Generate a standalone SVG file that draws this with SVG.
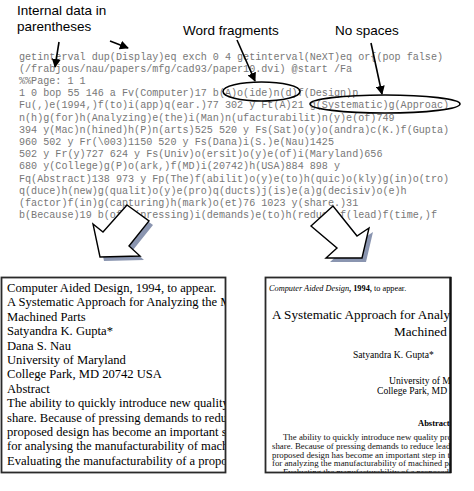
<svg xmlns="http://www.w3.org/2000/svg" width="474" height="491" viewBox="0 0 474 491">
<style>
.lbl{font-family:"Liberation Sans",Arial,sans-serif;font-size:13.5px;fill:#000}
.code{font-family:"Liberation Mono","Courier New",monospace;font-size:10.1px;fill:#777;white-space:pre}
.lt{font-family:"Liberation Serif","Times New Roman",serif;font-size:12.6px;fill:#000}
.rt{font-family:"Liberation Serif","Times New Roman",serif;fill:#000}
.para{font-size:8.8px;fill:#111}
.ptr{stroke:#000;stroke-width:1.6;fill:none;marker-end:url(#ah)}
.ell{fill:none;stroke:#000;stroke-width:1.6}
.blk{fill:#fff;stroke:#000;stroke-width:1.4;stroke-linejoin:miter}
.shd{fill:#8a95b0}
.box{fill:#fff;stroke:#2a2a2a;stroke-width:1.8}
</style>
<defs>
<marker id="ah" viewBox="0 0 10 10" refX="9" refY="5" markerWidth="9" markerHeight="9" markerUnits="userSpaceOnUse" orient="auto">
<path d="M0,0 L10,5 L0,10 z" fill="#000"/>
</marker>
<clipPath id="clipL"><rect x="2" y="278" width="223" height="193"/></clipPath>
<clipPath id="clipR"><rect x="266" y="278" width="184" height="194"/></clipPath>
</defs>
<rect width="474" height="491" fill="#fff"/>

<g id="labels">
<text class="lbl" x="17" y="15">Internal data in</text>
<text class="lbl" x="17" y="31">parentheses</text>
<text class="lbl" x="183" y="35">Word fragments</text>
<text class="lbl" x="335" y="35">No spaces</text>
</g>

<g id="postscript-code">
<text class="code" x="19" y="59.5">getinterval dup(Display)eq exch 0 4 getinterval(NeXT)eq or{(pop false)</text>
<text class="code" x="19" y="71.7">(/frabjous/nau/papers/mfg/cad93/paper10.dvi) @start /Fa</text>
<text class="code" x="19" y="83.9">%%Page: 1 1</text>
<text class="code" x="19" y="96.1">1 0 bop 55 146 a Fv(Computer)17 b(A)o(ide)n(d)f(Design)p</text>
<text class="code" x="19" y="108.3">Fu(,)e(1994,)f(to)i(app)q(ear.)77 302 y Ft(A)21 g(Systematic)g(Approac)</text>
<text class="code" x="19" y="120.5">n(h)g(for)h(Analyzing)e(the)i(Man)n(ufacturabilit)n(y)e(of)749</text>
<text class="code" x="19" y="132.7">394 y(Mac)n(hined)h(P)n(arts)525 520 y Fs(Sat)o(y)o(andra)c(K.)f(Gupta)</text>
<text class="code" x="19" y="144.9">960 502 y Fr(\003)1150 520 y Fs(Dana)i(S.)e(Nau)1425</text>
<text class="code" x="19" y="157.1">502 y Fr(y)727 624 y Fs(Univ)o(ersit)o(y)e(of)i(Maryland)656</text>
<text class="code" x="19" y="169.3">680 y(College)g(P)o(ark,)f(MD)i(20742)h(USA)884 898 y</text>
<text class="code" x="19" y="181.5">Fq(Abstract)138 973 y Fp(The)f(abilit)o(y)e(to)h(quic)o(kly)g(in)o(tro)</text>
<text class="code" x="19" y="193.7">q(duce)h(new)g(qualit)o(y)e(pro)q(ducts)j(is)e(a)g(decisiv)o(e)h</text>
<text class="code" x="19" y="205.9">(factor)f(in)g(capturing)h(mark)o(et)76 1023 y(share.)31</text>
<text class="code" x="19" y="218.1">b(Because)19 b(of)g(pressing)i(demands)e(to)h(reduce)f(lead)f(time,)f</text>
</g>

<g id="connectors">
<line class="ptr" x1="59" y1="42" x2="55" y2="67"/>
<line class="ptr" x1="110" y1="41" x2="128" y2="48"/>
<line class="ptr" x1="237" y1="40" x2="255" y2="81"/>
<line class="ptr" x1="371" y1="43" x2="382" y2="94"/>
<ellipse class="ell" cx="261.5" cy="91.5" rx="38.5" ry="9.5"/>
<ellipse class="ell" cx="385" cy="104" rx="75" ry="9"/>
</g>

<g id="arrow-left">
<polygon class="shd" points="131,209 153,225 133,250 144,260 104,261 97,228 107,236"/>
<polygon class="blk" points="127,205 149,221 129,246 140,256 100,257 93,224 103,232"/>
</g>
<g id="arrow-right">
<polygon class="shd" points="315,230 337,210 361,240 373,232 366,262 330,262 341,252"/>
<polygon class="blk" points="311,226 333,206 357,236 369,228 362,258 326,258 337,248"/>
</g>

<g id="text-output">
<rect class="box" x="1.5" y="277.5" width="224" height="195"/>
<g clip-path="url(#clipL)">
<text class="lt" x="7" y="292">Computer Aided Design, 1994, to appear.</text>
<text class="lt" x="7" y="306.4">A Systematic Approach for Analyzing the Manufacturability of</text>
<text class="lt" x="7" y="320.8">Machined Parts</text>
<text class="lt" x="7" y="335.2">Satyandra K. Gupta*</text>
<text class="lt" x="7" y="349.6">Dana S. Nau</text>
<text class="lt" x="7" y="364">University of Maryland</text>
<text class="lt" x="7" y="378.4">College Park, MD 20742 USA</text>
<text class="lt" x="7" y="392.8">Abstract</text>
<text class="lt" x="7" y="407.2">The ability to quickly introduce new qualityproducts is a decisive factor</text>
<text class="lt" x="7" y="421.6">share. Because of pressing demands to reduce lead time, analyzing the</text>
<text class="lt" x="7" y="436">proposed design has become an important step in the design process.</text>
<text class="lt" x="7" y="450.4">for analysing the manufacturability of machined parts.</text>
<text class="lt" x="7" y="464.8">Evaluating the manufacturability of a proposed design</text>
</g>
</g>

<g id="rendered-output">
<rect class="box" x="265.5" y="277.5" width="185" height="195"/>
<line x1="450.5" y1="277" x2="450.5" y2="473" stroke="#111" stroke-width="2.2"/>
<g clip-path="url(#clipR)">
<text class="rt" x="269" y="291" font-size="8.3px"><tspan font-style="italic">Computer Aided Design</tspan><tspan font-weight="bold">, 1994,</tspan> to appear.</text>
<text class="rt" x="272" y="318.5" font-size="13.2px">A Systematic Approach for Analyzing the</text>
<text class="rt" x="394" y="336" font-size="13.2px">Machined Parts</text>
<text class="rt" x="353" y="358" font-size="9.6px">Satyandra K. Gupta*</text>
<text class="rt" x="389" y="384" font-size="9.6px">University of Maryland</text>
<text class="rt" x="377" y="393.5" font-size="9.6px">College Park, MD 20742</text>
<text class="rt" x="418" y="426" font-size="8.5px" font-weight="bold">Abstract</text>
<text class="rt para" x="283" y="440">The ability to quickly introduce new quality products</text>
<text class="rt para" x="272" y="448.8">share. Because of pressing demands to reduce lead time</text>
<text class="rt para" x="272" y="457.6">proposed design has become an important step in the design</text>
<text class="rt para" x="272" y="466.4">for analyzing the manufacturability of machined parts.</text>
<text class="rt para" x="283" y="475.2">Evaluating the manufacturability of a proposed design</text>
</g>
</g>
</svg>
